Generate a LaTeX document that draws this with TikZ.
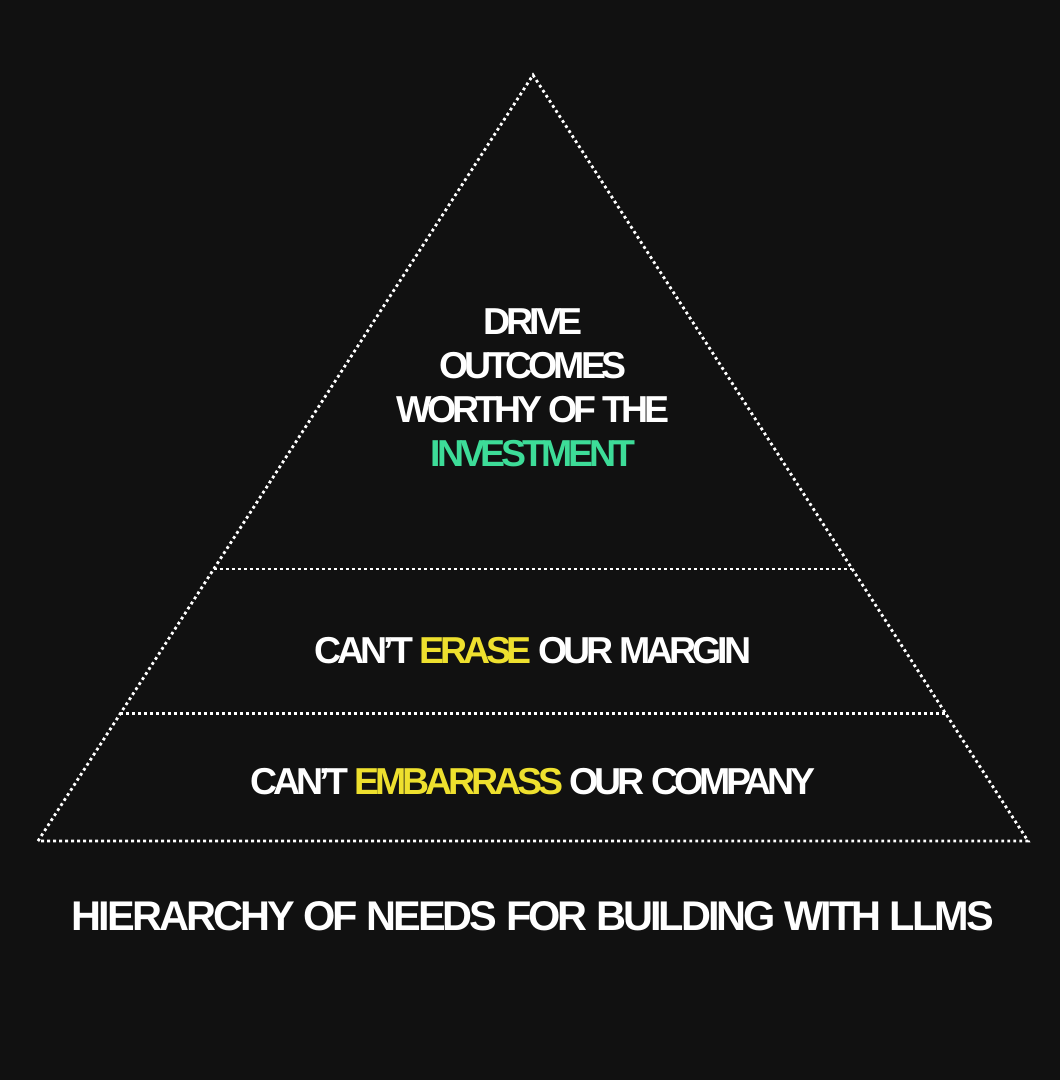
\documentclass[tikz,border=0pt]{standalone}
\usepackage{fontspec}
\setmainfont{Liberation Sans}
\newfontfamily\headfont[LetterSpace=-11]{Liberation Sans}
\newfontfamily\titlefont[LetterSpace=-7.2]{Liberation Sans}
\usetikzlibrary{calc}
\definecolor{bgdark}{HTML}{111111}
\definecolor{invgreen}{HTML}{3DDC98}
\definecolor{warnyellow}{HTML}{EEE02E}

\begin{document}
\begin{tikzpicture}[x=1pt,y=-1pt,
    dotline/.style={white,line width=2.8pt,dash pattern=on 2.8pt off 3.2pt},
    tier/.style={text=white,inner sep=0pt,align=center,font=\headfont\bfseries\fontsize{37.5}{44}\selectfont}]
            \fill[bgdark] (0,0) rectangle (1060,1080);
            \coordinate (apex) at (533,75);
            \coordinate (baseL) at (38,841);
            \coordinate (baseR) at (1028,841);
            \draw[dotline] (baseL)--(apex)--(baseR)--cycle;
            % tier borders
            \draw[dotline] ($(baseL)!0.355!(apex)$)--($(baseR)!0.355!(apex)$);
            \draw[dotline] ($(baseL)!0.166!(apex)$)--($(baseR)!0.166!(apex)$);
            \node[tier,anchor=north] (top) at (533,308) {DRIVE\\OUTCOMES\\WORTHY OF THE\\\textcolor{invgreen}{INVESTMENT}};
            \node[tier,anchor=base] (mid) at (533,663) {CAN’T \textcolor{warnyellow}{ERASE} OUR MARGIN};
            \node[tier,anchor=base] (low) at (533,794) {CAN’T \textcolor{warnyellow}{EMBARRASS} OUR COMPANY};
            \node[tier,anchor=base,font=\titlefont\bfseries\fontsize{41.5}{48}\selectfont] (title) at (533,930) {HIERARCHY OF NEEDS FOR BUILDING WITH LLMS};
        \end{tikzpicture}
\end{document}
